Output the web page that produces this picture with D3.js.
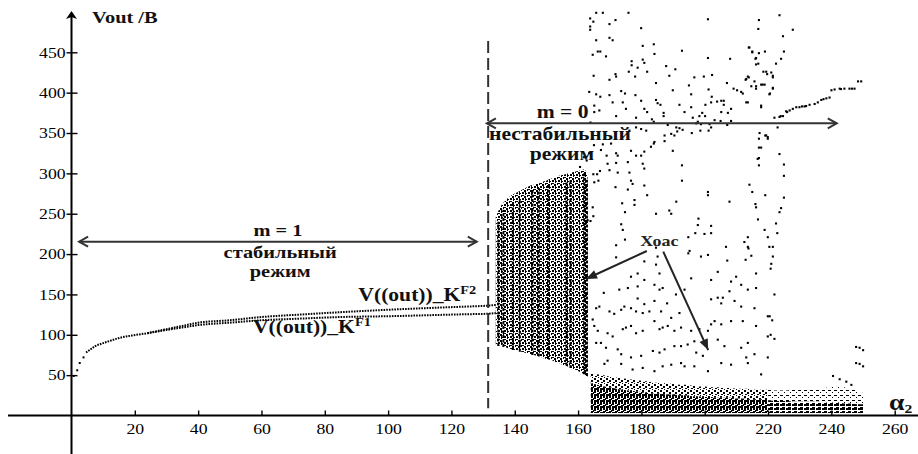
<!DOCTYPE html>
<html>
<head>
<meta charset="utf-8">
<script src="https://cdn.jsdelivr.net/npm/d3@7"></script>
<style>
body { margin: 0; background: #fff; }
text { font-family: "Liberation Serif", "Times New Roman", serif; }
</style>
</head>
<body>
<div id="chart"></div>
<script>
// ---- data ----
var xTicks = [20, 40, 60, 80, 100, 120, 140, 160, 180, 200, 220, 240, 260];
var yTicks = [50, 100, 150, 200, 250, 300, 350, 400, 450];

// stable branch (m = 1): first sparse points, then the two dotted curves
var startAlpha = [0.7, 1.8, 2.6, 3.8];
var startV = [49, 56, 65, 72];
var f1Alpha = [4.6, 6, 7.5, 9.5, 11.8, 15, 19, 24, 30, 35, 40, 50, 60, 72, 85, 100, 115, 125, 131, 134];
var f1V = [78, 82, 86, 89, 92, 96, 99, 102, 106, 109, 112, 115, 118, 120, 122, 123, 124.5, 125.5, 126, 127];
var f2Alpha = [24, 30, 35, 40, 50, 60, 72, 85, 100, 115, 125, 131, 134];
var f2V = [102, 107, 111, 115, 118, 122, 125, 128, 131, 133.5, 135, 136, 137];

// first dense (unstable) band, alpha 134..163
var band1Alpha = d3.range(134, 164);
var band1Low = [88, 87, 86, 85, 83, 82, 81, 80, 79, 78, 77, 76, 75, 74, 73, 71, 70, 69, 68, 66, 65, 63, 62, 60, 58, 57, 55, 53, 51, 48];
var band1High = [246, 255, 262, 266, 270, 273, 275, 277, 279, 281, 283, 285, 286, 287, 288, 290, 291, 293, 294, 295, 297, 298, 299, 300, 301, 302, 303, 304, 305, 300];
var heavyAlpha = [134.8, 136.4, 139.4, 141.6, 145.6, 147.6, 150.5, 156.3, 157.6, 161.9, 162.8];
var heavyLow = [86, 85, 81, 79, 75, 73, 70, 62, 59, 51, 49];
var heavyHigh = [240, 255, 262, 268, 280, 282, 286, 290, 292, 300, 292];

// low dense band after alpha 164
var bandFloor = 3;
var band2Alpha = [164, 166, 168, 170, 172, 174, 176, 178, 180, 182, 184, 186, 188, 190, 192, 194, 196, 198, 200, 202, 204, 206, 208, 210, 212, 214, 216, 218, 220];
var band2Core = [40, 38, 36, 35, 33, 32, 31, 30, 29, 28, 27, 27, 26, 26, 25, 25, 24, 24, 23, 23, 22, 22, 22, 21, 21, 20, 20, 20, 19];
var band2High = [52, 51, 50, 48, 47, 46, 45, 44, 43, 42, 41, 40, 40, 39, 38, 38, 37, 36, 36, 35, 35, 34, 34, 33, 33, 33, 32, 32, 32];
var band3Alpha = [220, 222, 224, 226, 228, 230, 232, 234, 236, 238, 240, 242, 244, 246, 248, 250];
var band3Core = [19, 18, 18, 18, 17, 17, 17, 17, 17, 16, 16, 16, 15, 15, 14, 14];
var band3High = [32, 31, 31, 31, 32, 32, 32, 33, 33, 34, 36, 37, 35, 33, 31, 28];

// scattered chaotic points [alpha, V]
var chaosPoints = [
  [165.7,499],[167.8,499],[175.9,499],[163.8,492],[164.8,488],[163.8,482],[163.8,478],[169.9,485],[171.8,490],[179.9,480],
  [201,491],[217.1,490],[216.9,479],[165.7,465],[169.9,468],[170.9,465],[164.6,447],[166.2,451],[167,451],[168.8,445],
  [180.4,458],[183.9,460],[192.8,452],[176.9,439],[176.9,434],[180.4,441],[180.9,437],[178.8,431],[184.1,448],[201,443],
  [208,442],[214.1,456],[215,450],[216.2,443],[219,451],[216.9,436],[164.9,421],[169.9,416],[171.8,423],[172,420],
  [176,426],[178,420],[181.8,426],[187.8,433],[190.7,429],[188.8,421],[184.6,412],[195,409],[196.7,419],[199.7,420],
  [202.3,422],[218.5,426],[219.7,423],[221.5,421],[213.6,420],[212.9,416],[207,412],[209.1,405],[210.2,403],[211.5,401],
  [212,399],[214.7,408],[216.2,408],[217.8,410],[218.9,410],[220.4,398],[221.5,405],[163.5,401],[165.7,398],[167,395],
  [169.9,397],[173.6,402],[174.8,399],[178.1,397],[189.9,403],[195.7,398],[201.2,404],[205.2,390],[206,390],[206,385],
  [203.9,389],[202.2,395],[202,388],[200.2,385],[213.1,388],[213.6,388],[217.8,382],[170.9,388],[174.1,388],[179.9,390],
  [184.6,391],[185.1,387],[186,385],[192,385],[195.7,382],[175.1,380],[180.9,380],[181.8,376],[178.3,369],[172,371],
  [165.1,376],[165.1,384],[166.7,378],[163.9,363],[187,375],[187,371],[183.3,367],[183.9,364],[199.2,375],[198.3,371],
  [197.8,364],[200.1,371],[198.8,361],[201.5,361],[203.1,366],[205,365],[207.1,360],[208.3,365],[207.3,375],[208.3,380],
  [205.2,376],[193.6,376],[196.2,369],[197.3,362],[191,357],[188.3,360],[192,356],[193,354],[195.9,350],[198.6,353],
  [201.2,353],[202,357],[178.3,357],[179.9,355],[181.5,353],[176.2,353],[187.3,347],[189.4,349],[190.4,347],[191.3,352],
  [217.3,350],[219.1,347],[219.9,345],[184.1,339],
  [167.8,336],[170.4,337],[183.9,337],[183,333],[187.3,340],[189.9,328],[167.2,329],[169,322],[172,325],[172.5,322],
  [176.7,328],[178.3,322],[179.9,322],[180.9,327],[169.3,312],[172,313],[175.7,314],[180.4,312],[180.9,306],[169.9,304],
  [172.5,301],[176.2,301],[166,299],[166.4,291],[165.1,289],[176.7,291],[177.2,287],[180.9,285],[171.8,283],[181.8,273],
  [175.7,280],[192.8,310],[192.8,291],[177.8,267],[177.8,261],[173.9,263],[174.8,252],[184.6,250],[188.8,254],[189.4,250],
  [191,265],[201,277],[201,273],[207.8,265],[214.1,286],[215,277],[219.1,273],[217.1,332],[217.1,319],[217.1,310],
  [216,262],[216.2,258],[216.8,243],[218.9,230],[219.9,221],[220.4,209],[164.6,258],[164.8,247],[163,242],[163.9,241],
  [173.6,237],[174.1,230],[174.8,218],[172,211],[172,196],[184.6,208],[185.1,197],[180.9,191],[184.6,187],[185.7,176],
  [194.8,221],[195.2,204],[194.8,201],[198,244],[197.8,236],[197,226],[199.9,225],[202,235],[202,226],[198.8,197],
  [201,199],[204.1,178],[206.7,209],[207.1,192],[209.9,172],[212.5,215],[212.9,193],[213.6,209],[213.6,221],[213.8,207],
  [214.7,198],[216.2,176],[221.5,197],[221.5,209],[220.8,182],[178.8,176],[176.7,172],
  [180.9,168],[178.8,160],[184.1,162],[186.7,158],[185.7,156],[173,156],[175.7,158],[190.9,150],[193.6,156],[195.7,170],
  [202,168],[208.3,166],[211.5,162],[213.6,156],[216.2,158],[168.1,152],[178.8,145],[180.9,138],[184.1,142],[186.2,129],
  [188.1,139],[189.4,121],[192,127],[202,144],[204.1,146],[205.7,146],[205.2,139],[207.8,154],[209.4,142],[211.5,135],
  [215.7,133],[219.9,123],[165.7,133],[166.7,135],[169.9,129],[171.4,126],[173.6,131],[174.6,135],[176.7,133],[178.3,129],
  [180.4,127],[182.5,129],[164.6,119],[165.1,111],[166.2,105],[169.3,102],[170.9,98],[174.1,107],[175.1,109],[176.7,111],
  [178.3,102],[180.4,105],[184.1,117],[185.7,107],[186.7,109],[188.3,111],[190.4,105],[192.5,109],[195.7,105],[198.3,107],
  [202,113],[203.1,117],[205.2,113],[208.3,117],[212,117],[216.2,111],[219.9,98],[165.7,90],[167.2,90],[168.8,84],
  [172.5,82],[173.6,76],[176.7,72],[179.9,74],[183.6,80],[185.7,78],[187.3,82],[190.4,86],[192.5,86],[194.6,88],
  [197.3,78],[199.4,74],[196.7,92],[201,105],[204.1,94],[206.2,86],[211.5,84],[213.1,72],[213.6,90],[215.7,76],
  [219.9,72],[168.3,64],[169.3,68],[173.6,64],[177.2,57],[180.4,59],[184.1,55],[186.7,61],[189.4,63],[192.5,65],
  [193.6,61],[196.7,61],[201,55],[205.2,65],[208.3,63],[213.6,65],[217.8,51],
  [222,369],[223.6,370],[224,371],[224.7,371],[225.7,377],[226,376],[226.8,378],[227.8,380],[228.9,382],[229.9,382],
  [230.7,383],[231.5,383],[232,383.5],[233.1,385],[234.7,386],[235.7,388],[236.8,391],[237.5,392],[238.4,393],[239.4,394],
  [240,403],[241,404],[242.6,405],[243,404.5],[244.1,405],[245.7,405],[246.5,405],[247.3,405],[248.4,414],[249.4,414],
  [217.8,384],[223,357],[223.6,496],[227.8,478],[224.7,470],[225,451],[224.1,442],[222.5,436],[221,425],[221.5,419],
  [221.5,406],[220.6,399],[218.3,410],[219.4,426],[216.2,435],[217.1,449],[213.9,456],[215,451],[216,442],[213.1,417],
  [213.9,419],[215.7,414],[216.2,405],[217.1,343],[217.8,332],[219.4,347],[219.9,343],[216.7,318],[223.6,324],
  [225,311],[225,297],[225,270],[224.1,257],[223.6,252],[222.5,238],[222.9,226],[221,188],[222,150],
  [220.5,123],[221.3,118],[220.8,100],[222,95],
  [166.9,303],[164.8,299],[162.7,316],[160.6,308],[163.5,325],[165,335],[161.8,320],
  [247.8,85],[248.9,84],[250,81],[247.8,65],[248.9,64],[250,61],[240.5,49],[242.6,45],[244.7,42],[246.3,38]
];

// ---- chart ----
var W = 918, H = 454;
var svg = d3.select("#chart").append("svg")
    .attr("width", W)
    .attr("height", H);

var x = d3.scaleLinear().domain([0, 260]).range([71.5, 894.7]);
var y = d3.scaleLinear().domain([0, 450]).range([415.5, 52.3]);

var defs = svg.append("defs");
// dot textures: tile size, then the black cells inside it
function dotPattern(id, w, h, cells) {
    var p = defs.append("pattern").attr("id", id)
        .attr("patternUnits", "userSpaceOnUse")
        .attr("width", w).attr("height", h);
    cells.forEach(function(c) {
        p.append("rect").attr("x", c[0]).attr("y", c[1])
            .attr("width", c[2]).attr("height", c[3]).attr("fill", "#000");
    });
}
dotPattern("pDense", 6, 6, [[0, 0, 2, 2], [3, 0, 1, 3], [0, 3, 2, 1], [2, 4, 2, 2], [5, 3, 1, 2], [4, 1, 1, 1]]);
dotPattern("pCore", 6, 6, [[0, 0, 2, 3], [3, 0, 2, 2], [0, 4, 3, 2], [3, 3, 2, 3], [5, 2, 1, 2]]);
dotPattern("pLight", 6, 6, [[0, 0, 2, 2], [3, 2, 2, 2], [1, 4, 2, 1], [4, 5, 1, 1]]);
dotPattern("pCore3", 6, 4, [[0, 0, 5, 2], [2, 3, 3, 1]]);
dotPattern("pLight3", 6, 5, [[0, 0, 3, 1], [4, 2, 1, 1]]);

defs.append("marker").attr("id", "openHead")
    .attr("markerUnits", "userSpaceOnUse")
    .attr("viewBox", "-12 -7 14 14").attr("refX", 0).attr("refY", 0)
    .attr("markerWidth", 14).attr("markerHeight", 14)
    .attr("orient", "auto-start-reverse")
  .append("path").attr("d", "M-9,-5L0,0L-9,5")
    .attr("fill", "none").attr("stroke", "#333").attr("stroke-width", 2);

defs.append("marker").attr("id", "fillHead")
    .attr("markerUnits", "userSpaceOnUse")
    .attr("viewBox", "-12 -6 13 12").attr("refX", 0).attr("refY", 0)
    .attr("markerWidth", 13).attr("markerHeight", 12)
    .attr("orient", "auto")
  .append("path").attr("d", "M-11,-4.5L0,0L-11,4.5Z").attr("fill", "#222");

// dense bands
function band(alphas, lo, hi, fill) {
    var a = d3.area()
        .x(function(d, i) { return x(alphas[i]); })
        .y0(function(d, i) { return y(typeof lo === "number" ? lo : lo[i]); })
        .y1(function(d, i) { return y(hi[i]); });
    svg.append("path").datum(alphas).attr("d", a).attr("fill", fill);
}
band(band1Alpha, band1Low, band1High, "url(#pDense)");
band(band2Alpha, bandFloor, band2Core, "url(#pCore)");
band(band2Alpha, band2Core, band2High, "url(#pLight)");
band(band3Alpha, bandFloor, band3Core, "url(#pCore3)");
band(band3Alpha, band3Core, band3High, "url(#pLight3)");

svg.append("g").selectAll("line").data(heavyAlpha).enter().append("line")
    .attr("x1", function(d) { return x(d); })
    .attr("x2", function(d) { return x(d); })
    .attr("y1", function(d, i) { return y(heavyLow[i]); })
    .attr("y2", function(d, i) { return y(heavyHigh[i]); })
    .attr("stroke", "#000").attr("stroke-width", 2)
    .attr("stroke-dasharray", "3,1.5");

// stable dotted curves
var curve = d3.line()
    .x(function(d) { return x(d[0]); })
    .y(function(d) { return y(d[1]); })
    .curve(d3.curveMonotoneX);
[[f1Alpha, f1V], [f2Alpha, f2V]].forEach(function(s) {
    svg.append("path")
        .datum(s[0].map(function(a, i) { return [a, s[1][i]]; }))
        .attr("d", curve)
        .attr("fill", "none").attr("stroke", "#000")
        .attr("stroke-width", 2).attr("stroke-dasharray", "1.6,1.1");
});
svg.append("g").selectAll("rect").data(startAlpha).enter().append("rect")
    .attr("x", function(d) { return x(d) - 1; })
    .attr("y", function(d, i) { return y(startV[i]) - 1; })
    .attr("width", 2).attr("height", 2).attr("fill", "#000");

// scattered chaos points
svg.append("g").selectAll("rect").data(chaosPoints).enter().append("rect")
    .attr("x", function(d) { return x(d[0]) - 1; })
    .attr("y", function(d) { return y(d[1]) - 1; })
    .attr("width", 2.1).attr("height", 2.1).attr("fill", "#000");

// axes
var xAxis = d3.axisBottom(x).tickValues(xTicks).tickSizeInner(-5).tickSizeOuter(0).tickPadding(8);
var gx = svg.append("g").attr("transform", "translate(0," + y(0) + ")").call(xAxis);
gx.select(".domain").remove();
gx.attr("font-family", null).attr("font-size", 15);
gx.selectAll("line").attr("stroke-width", 1.4);
gx.selectAll("text").attr("transform", "scale(1.18,1)");

var yAxis = d3.axisLeft(y).tickValues(yTicks).tickSizeInner(5).tickSizeOuter(0).tickPadding(0);
var gy = svg.append("g").attr("transform", "translate(" + x(0) + ",0)").call(yAxis);
gy.select(".domain").remove();
gy.attr("font-family", null).attr("font-size", 15);
gy.selectAll("line").attr("x2", 6).attr("x1", -5).attr("stroke-width", 1.4);
gy.selectAll("text").attr("transform", "scale(1.18,1)");

svg.append("line")
    .attr("x1", 8).attr("x2", W)
    .attr("y1", y(0)).attr("y2", y(0))
    .attr("stroke", "#000").attr("stroke-width", 2);
svg.append("line")
    .attr("x1", x(0)).attr("x2", x(0))
    .attr("y1", 16).attr("y2", H)
    .attr("stroke", "#000").attr("stroke-width", 2);
svg.append("path")
    .attr("d", "M" + x(0) + ",11L" + (x(0) + 5.5) + ",19L" + x(0) + ",17L" + (x(0) - 5.5) + ",19Z")
    .attr("fill", "#000");

// border between regimes
svg.append("line")
    .attr("x1", x(131.6)).attr("x2", x(131.6))
    .attr("y1", y(464)).attr("y2", y(9))
    .attr("stroke", "#333").attr("stroke-width", 2)
    .attr("stroke-dasharray", "12,5");

// regime arrows
function hArrow(a0, a1, v) {
    svg.append("line")
        .attr("x1", x(a0)).attr("x2", x(a1))
        .attr("y1", y(v)).attr("y2", y(v))
        .attr("stroke", "#333").attr("stroke-width", 2)
        .attr("marker-start", "url(#openHead)")
        .attr("marker-end", "url(#openHead)");
}
hArrow(2.4, 128, 215.3);
hArrow(131.2, 241.7, 362);

// chaos pointers
function pointer(a0, v0, a1, v1) {
    svg.append("line")
        .attr("x1", x(a0)).attr("y1", y(v0))
        .attr("x2", x(a1)).attr("y2", y(v1))
        .attr("stroke", "#222").attr("stroke-width", 2)
        .attr("marker-end", "url(#fillHead)");
}
pointer(181.7, 203.8, 162.5, 169.1);
pointer(186.9, 203, 201.1, 81.1);

// labels
function label(str, a, v, size, anchor) {
    return svg.append("text")
        .attr("transform", "translate(" + x(a) + "," + y(v) + ") scale(1.2,1)")
        .attr("text-anchor", anchor)
        .attr("font-size", size)
        .attr("font-weight", "bold")
        .attr("fill", "#111")
        .text(str);
}
label("Vout /В", 6.5, 486.3, 17, "start");
label("m = 1", 65.2, 221.8, 17, "middle");
label("стабильный", 65.9, 195.1, 17, "middle");
label("режим", 65.9, 172.2, 17, "middle");
label("m = 0", 155.1, 368.6, 18, "middle");
label("нестабильный", 154.3, 341.3, 18, "middle");
label("режим", 154.9, 316.6, 18, "middle");
label("Хоас", 179.6, 210, 15, "start").attr("fill", "#222");

var f2Label = label("V((out))_K", 90.6, 141.9, 18, "start");
f2Label.append("tspan").attr("font-size", 12).attr("dy", -7).text("F2");
var f1Label = label("V((out))_K", 57.3, 102.2, 18, "start");
f1Label.append("tspan").attr("font-size", 12).attr("dy", -7).text("F1");

var aLabel = label("α", 258.2, 6.8, 23, "start");
aLabel.append("tspan").attr("font-size", 13).attr("dy", 3).text("2");
</script>
</body>
</html>
